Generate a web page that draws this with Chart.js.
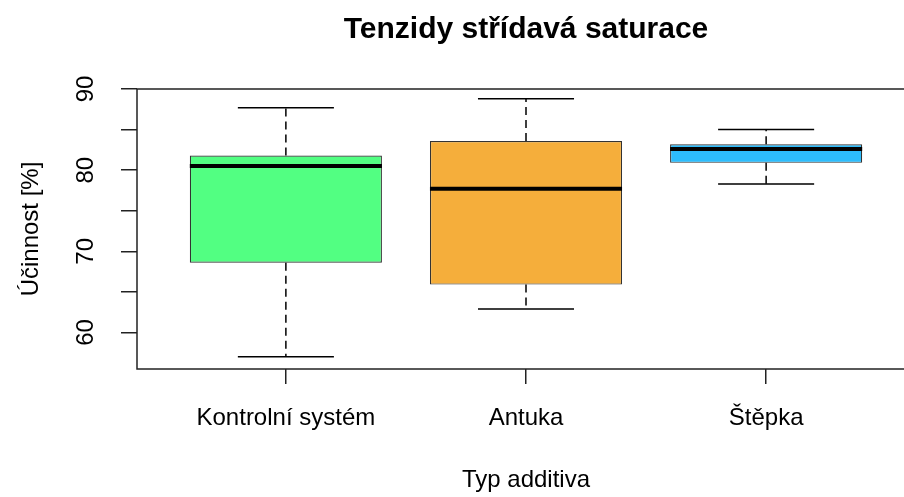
<!DOCTYPE html>
<html>
<head>
<meta charset="utf-8">
<script src="https://cdn.jsdelivr.net/npm/chart.js@4.4.1/dist/chart.umd.min.js"></script>
<style>
    html, body { margin: 0; padding: 0; background: #fff; overflow: hidden; }
    #wrap { width: 920px; height: 497px; position: relative; }
</style>
</head>
<body>
<div id="wrap"><canvas id="chartTenzidy"></canvas></div>
<script>
// ============ DATA ============
const kategorie   = ['Kontrolní systém', 'Antuka', 'Štěpka'];
const pozice      = [1, 2, 3];
const whiskerLow  = [57.0, 62.9, 78.3];
const kvartil1    = [68.6, 65.9, 80.9];
const medianHodn  = [80.5, 77.7, 82.6];
const kvartil3    = [81.8, 83.6, 83.2];
const whiskerHigh = [87.7, 88.8, 85.0];
const yTicks      = [60, 65, 70, 75, 80, 85, 90];
const yLabels     = [60, 70, 80, 90];
const barvy       = ['#52ff82', '#f5ae3b', '#2dbdfd'];

Chart.defaults.font.family = "'Liberation Sans', Arial, sans-serif";
Chart.defaults.color = '#000';

// whiskers, staples, medians and the plot frame
const boxplotLines = {
    id: 'boxplotLines',
    afterDatasetsDraw(chart) {
        const { ctx, chartArea, scales: { x, y } } = chart;
        const meta = chart.getDatasetMeta(0);
        ctx.save();
        ctx.strokeStyle = '#000';

        pozice.forEach((p, i) => {
            const cx = x.getPixelForValue(p);
            const half = meta.data[i].width / 2;

            ctx.lineWidth = 1.5;
            ctx.setLineDash([8, 5]);
            ctx.beginPath();
            ctx.moveTo(cx, y.getPixelForValue(kvartil3[i]));
            ctx.lineTo(cx, y.getPixelForValue(whiskerHigh[i]));
            ctx.moveTo(cx, y.getPixelForValue(kvartil1[i]));
            ctx.lineTo(cx, y.getPixelForValue(whiskerLow[i]));
            ctx.stroke();

            ctx.setLineDash([]);
            ctx.beginPath();
            ctx.moveTo(cx - half / 2, y.getPixelForValue(whiskerHigh[i]));
            ctx.lineTo(cx + half / 2, y.getPixelForValue(whiskerHigh[i]));
            ctx.moveTo(cx - half / 2, y.getPixelForValue(whiskerLow[i]));
            ctx.lineTo(cx + half / 2, y.getPixelForValue(whiskerLow[i]));
            ctx.stroke();

            ctx.lineWidth = 4;
            ctx.beginPath();
            ctx.moveTo(cx - half, y.getPixelForValue(medianHodn[i]));
            ctx.lineTo(cx + half, y.getPixelForValue(medianHodn[i]));
            ctx.stroke();
        });

        ctx.lineWidth = 1.5;
        ctx.strokeStyle = '#222';
        ctx.strokeRect(chartArea.left, chartArea.top, chartArea.right - chartArea.left, chartArea.bottom - chartArea.top);
        ctx.restore();
    }
};

new Chart(document.getElementById('chartTenzidy'), {
    type: 'bar',
    data: {
        datasets: [{
            data: pozice.map((p, i) => ({ x: p, y: [kvartil1[i], kvartil3[i]] })),
            backgroundColor: barvy,
            borderColor: '#333',
            borderWidth: 1.2,
            borderSkipped: false,
            barPercentage: 0.8,
            categoryPercentage: 1
        }]
    },
    options: {
        responsive: true,
        maintainAspectRatio: false,
        animation: false,
        layout: { padding: { left: 0, right: 5, top: 0, bottom: 0 } },
        plugins: {
            legend: { display: false },
            tooltip: { enabled: false },
            title: {
                display: true,
                text: 'Tenzidy střídavá saturace',
                fullSize: false,
                color: '#000',
                font: { size: 30, weight: 'bold' },
                padding: { top: 12, bottom: 41 }
            }
        },
        scales: {
            x: {
                type: 'linear',
                min: 0.38,
                max: 3.62,
                offset: false,
                afterBuildTicks: s => { s.ticks = pozice.map(v => ({ value: v })); },
                afterFit: s => { s.height = 128; },
                ticks: {
                    callback: v => kategorie[pozice.indexOf(v)] ?? '',
                    autoSkip: false,
                    maxRotation: 0,
                    padding: 20,
                    color: '#000',
                    font: { size: 24 }
                },
                grid: { offset: false, drawOnChartArea: false, tickLength: 15, lineWidth: 1.5, color: '#222' },
                border: { display: false },
                title: {
                    display: true,
                    text: 'Typ additiva',
                    color: '#000',
                    font: { size: 24 },
                    padding: { top: 0, bottom: 2 }
                }
            },
            y: {
                min: 55.5,
                max: 90,
                afterBuildTicks: s => { s.ticks = yTicks.map(v => ({ value: v })); },
                afterFit: s => { s.width = 137; },
                ticks: {
                    callback: v => yLabels.includes(v) ? String(v) : '',
                    autoSkip: false,
                    minRotation: 90,
                    maxRotation: 90,
                    crossAlign: 'center',
                    padding: 21,
                    color: '#000',
                    font: { size: 24 }
                },
                grid: { drawOnChartArea: false, tickLength: 16, lineWidth: 1.5, color: '#222' },
                border: { display: false },
                title: {
                    display: true,
                    text: 'Účinnost [%]',
                    color: '#000',
                    font: { size: 24 },
                    padding: { top: 17, bottom: 0 }
                }
            }
        }
    },
    plugins: [boxplotLines]
});
</script>
</body>
</html>
